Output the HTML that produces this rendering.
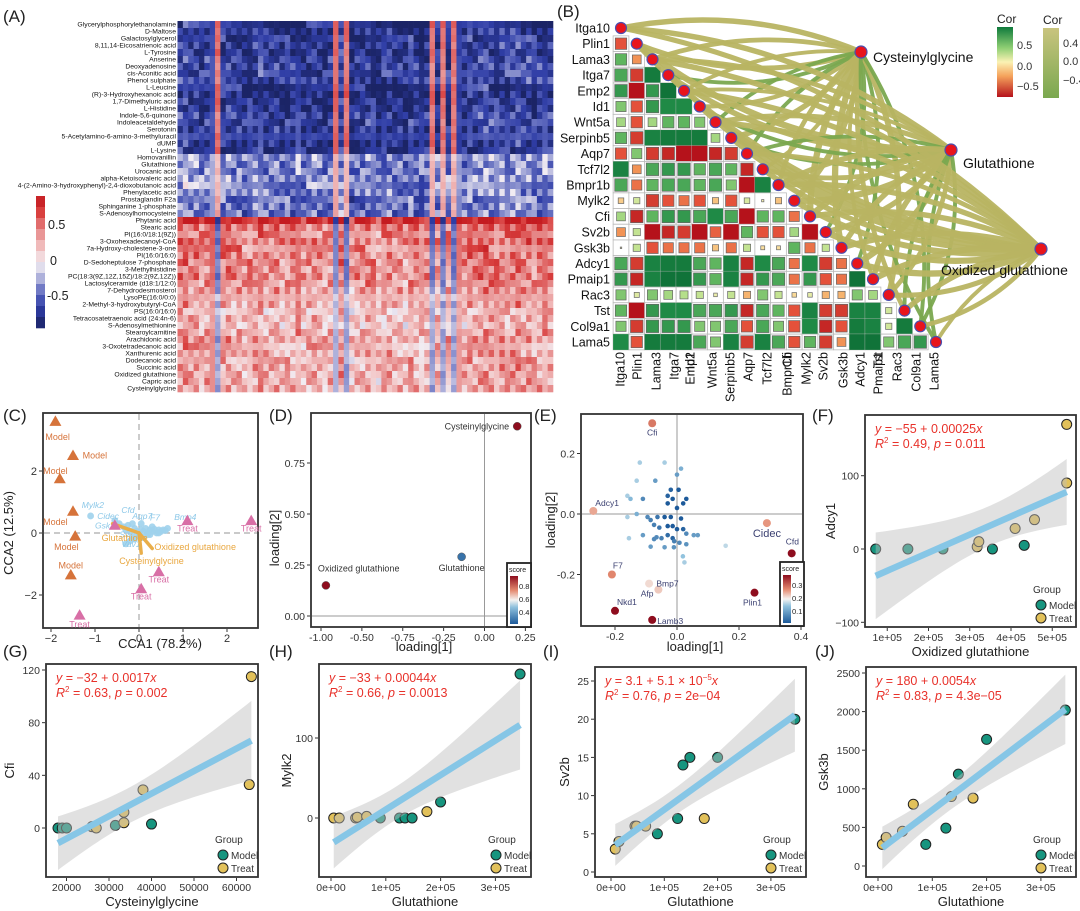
<!DOCTYPE html>
<html><head><meta charset="utf-8">
<style>
html,body{margin:0;padding:0;background:#fff;}
svg{display:block;font-family:"Liberation Sans",Arial,sans-serif;}
</style></head>
<body>
<svg id="fig" width="1080" height="911" viewBox="0 0 1080 911" xmlns="http://www.w3.org/2000/svg">
<rect x="0" y="0" width="1080" height="911" fill="#fff"/>
</svg>
<script>
// ---------------- DATA ----------------
const hmRows=['Glycerylphosphorylethanolamine','D-Maltose','Galactosylglycerol','8,11,14-Eicosatrienoic acid','L-Tyrosine','Anserine','Deoxyadenosine','cis-Aconitic acid','Phenol sulphate','L-Leucine','(R)-3-Hydroxyhexanoic acid','1,7-Dimethyluric acid','L-Histidine','Indole-5,6-quinone','Indoleacetaldehyde','Serotonin','5-Acetylamino-6-amino-3-methyluracil','dUMP','L-Lysine','Homovanillin','Glutathione','Urocanic acid','alpha-Ketoisovaleric acid','4-(2-Amino-3-hydroxyphenyl)-2,4-dioxobutanoic acid','Phenylacetic acid','Prostaglandin F2a','Sphinganine 1-phosphate','S-Adenosylhomocysteine','Phytanic acid','Stearic acid','PI(16:0/18:1(9Z))','3-Oxohexadecanoyl-CoA','7a-Hydroxy-cholestene-3-one','PI(16:0/16:0)','D-Sedoheptulose 7-phosphate','3-Methylhistidine','PC(18:3(9Z,12Z,15Z)/18:2(9Z,12Z))','Lactosylceramide (d18:1/12:0)','7-Dehydrodesmosterol','LysoPE(16:0/0:0)','2-Methyl-3-hydroxybutyryl-CoA','PS(16:0/16:0)','Tetracosatetraenoic acid (24:4n-6)','S-Adenosylmethionine','Stearoylcarnitine','Arachidonic acid','3-Oxotetradecanoic acid','Xanthurenic acid','Dodecanoic acid','Succinic acid','Oxidized glutathione','Capric acid','Cysteinylglycine'];
const hmRowMean=[-0.7,-0.7,-0.65,-0.65,-0.7,-0.6,-0.6,-0.6,-0.6,-0.7,-0.75,-0.7,-0.7,-0.6,-0.6,-0.65,-0.7,-0.7,-0.7,-0.3,-0.35,-0.35,-0.3,-0.3,-0.35,-0.4,-0.4,-0.4,0.85,0.5,0.45,0.5,0.45,0.45,0.45,0.4,0.45,0.4,0.35,0.15,0.3,0.2,0.25,0.2,0.3,0.35,0.3,0.3,0.3,0.3,0.3,0.3,0.3];
const hmColShift=[0.1,0.15,0.05,0.1,0,0.05,0,9,0.05,0.1,0,0.05,-0.05,0,0.05,0.1,0,0,0.05,-0.05,0,0,0.1,-0.05,0,0.05,0,-0.05,0,9,0.1,9,-0.1,0,0,0.05,0,-0.1,0,0.05,-0.05,0,-0.1,0.05,0,-0.05,0,9,0,9,0,9,-0.05,0,0.1,0.05,0.1,0.15,0.1,0.05,0.1,0.05,0.1,0.15,0.05,0.1,0,0.05,0.1,0.05];

const genes=['Itga10','Plin1','Lama3','Itga7','Emp2','Id1','Wnt5a','Serpinb5','Aqp7','Tcf7l2','Bmpr1b','Mylk2','Cfi','Sv2b','Gsk3b','Adcy1','Pmaip1','Rac3','Tst','Col9a1','Lama5'];
const corRows=[
[-0.5],
[0.5,-0.3],
[0.6,-0.6,0.9],
[0.7,-0.8,0.7,0.95],
[0.4,-0.5,0.7,0.8,0.8],
[0.3,-0.5,0.3,0.5,0.5,0.4],
[0.5,-0.6,0.85,0.9,0.9,0.9,0.3],
[-0.5,0.4,-0.6,-0.7,-0.85,-0.85,-0.7,-0.6],
[0.85,-0.3,0.6,0.7,0.7,0.5,0.6,0.5,-0.7],
[0.6,-0.4,0.5,0.6,0.6,0.5,0.6,0.4,-0.8,0.85],
[-0.12,0.15,-0.6,-0.5,-0.4,-0.5,-0.15,-0.5,0.12,0.02,-0.15],
[0.3,-0.7,0.5,0.7,0.7,0.6,0.8,0.6,-0.8,0.5,0.5,-0.4],
[-0.3,0.2,-0.8,-0.7,-0.6,-0.8,-0.45,-0.8,0.5,-0.5,-0.5,0.3,-0.8],
[0.0,0.2,-0.5,-0.4,-0.4,-0.4,-0.15,-0.4,0.2,-0.06,-0.06,0.5,-0.4,0.2],
[0.6,-0.6,0.85,0.9,0.9,0.6,0.5,0.85,-0.7,0.8,0.6,-0.4,0.8,-0.6,-0.4],
[0.7,-0.7,0.85,0.95,0.95,0.7,0.5,0.85,-0.7,0.7,0.6,-0.4,0.7,-0.5,-0.4,0.95],
[0.4,0.1,0.4,0.3,0.25,0.2,0.05,0.2,-0.2,0.4,0.2,-0.08,0.08,-0.2,-0.2,0.4,0.3],
[0.5,-0.8,0.7,0.8,0.8,0.6,0.6,0.7,-0.7,0.6,0.5,-0.5,0.85,-0.6,-0.6,0.85,0.85,0.15],
[0.4,-0.6,0.7,0.7,0.7,0.4,0.4,0.6,-0.5,0.6,0.4,-0.5,0.8,-0.7,-0.5,0.9,0.85,0.15,0.9],
[0.8,-0.5,0.9,0.9,0.9,0.6,0.4,0.85,-0.6,0.85,0.6,-0.5,0.5,-0.6,-0.3,0.95,0.95,0.4,0.6,0.7]];
const metNames=['Cysteinylglycine','Glutathione','Oxidized glutathione'];
const edgeCys=[0.5,0.45,0.4,-0.3,0.3,0.35,-0.3,0.5,-0.3,0.3,0.4,0.55,0.6,-0.3,0.6,-0.3,0.3,0.5,0.4,-0.3,-0.3];
const edgeGlu=[0.5,0.6,0.4,0.5,0.3,-0.3,0.45,-0.3,-0.3,0.4,0.5,0.6,0.6,0.5,0.5,0.6,0.5,0.4,-0.3,-0.3,-0.3];
const edgeOx=[0.45,0.5,0.5,0.4,0.5,0.5,0.5,0.5,0.4,0.5,0.5,0.55,0.5,0.6,0.5,0.6,0.6,0.45,0.5,0.4,0.3];

const cModel=[[-1.9,3.6],[-1.5,2.5],[-1.8,1.75],[-1.5,0.7],[-1.45,-0.1],[-1.55,-1.35]];
const cTreat=[[1.1,0.4],[2.55,0.4],[0.45,-1.25],[0.05,-1.8],[-1.35,-2.65],[-0.55,0.25]];
const cGenesX=[-1.1,-0.55,-0.45,-0.35,-0.3,-0.25,-0.2,-0.15,-0.1,-0.05,0,0.05,0.1,0.15,0.2,0.25,0.3,0.35,0.4,0.45,0.5,0.55,0.6,0.65,-0.2,-0.1,0,0.1,0.2,0.3,-0.3,-0.15,0.05,0.25,0.45];
const cGenesY=[0.55,0.4,0.3,0.2,0.1,0.25,0.05,-0.1,0.15,0.05,-0.05,0.1,0.05,0.15,0,0.1,0.05,0.12,0.0,0.1,0.05,0.1,0.08,0.15,-0.25,-0.2,-0.1,-0.15,-0.05,0.2,-0.35,0.3,0.3,-0.05,0.0];
const cArrows=[[-0.6,0.3],[0.05,-0.65],[0.3,-0.5]];

const dX=[0.2,-0.14,-0.97];
const dY=[0.93,0.29,0.15];
const dScore=[0.9,0.35,0.9];

const eLabels=['Cfi','Adcy1','Cidec','Cfd','F7','Afp','Bmp7','Nkd1','Lamb3','Plin1'];
const eLX=[-0.08,-0.27,0.29,0.37,-0.21,-0.09,-0.06,-0.2,-0.08,0.25];
const eLY=[0.3,0.01,-0.03,-0.13,-0.2,-0.23,-0.25,-0.32,-0.35,-0.26];
const eLS=[0.28,0.25,0.26,0.36,0.27,0.22,0.23,0.36,0.36,0.36];
const eX=[-0.12,-0.04,0.013,0,-0.13,-0.07,-0.02,0.005,-0.11,-0.03,-0.014,0.03,-0.03,0,0.02,-0.16,-0.15,-0.13,-0.16,-0.095,-0.085,-0.063,-0.04,-0.02,0.013,-0.014,0,0.02,-0.03,-0.057,-0.074,-0.11,-0.066,-0.03,-0.014,0.03,0.054,0.067,-0.155,-0.009,0.008,-0.04,-0.01,0.03,0.019,0.024,0.157,-0.074,-0.05,-0.085];
const eY=[0.17,0.17,0.15,0.13,0.11,0.11,0.08,0.08,0.05,0.06,0.05,0.05,0.035,0.02,0.035,0.06,0.05,0,-0.01,-0.01,-0.02,-0.01,-0.01,-0.01,-0.015,-0.04,-0.05,-0.05,-0.04,-0.045,-0.036,-0.07,-0.077,-0.07,-0.08,-0.065,-0.07,-0.07,-0.08,-0.09,-0.095,-0.11,-0.11,-0.1,-0.14,-0.16,-0.105,-0.083,-0.08,-0.108];
const eS=[0.17,0.17,0.14,0.12,0.17,0.12,0.06,0.05,0.1,0.06,0.03,0.05,0.04,0.03,0.05,0.17,0.15,0.14,0.17,0.1,0.09,0.08,0.05,0.04,0.05,0.04,0.05,0.06,0.05,0.08,0.09,0.12,0.1,0.07,0.06,0.1,0.12,0.12,0.17,0.09,0.1,0.12,0.11,0.11,0.16,0.17,0.18,0.1,0.09,0.12];

const fX=[72000,150000,235000,355000,432000,318000,322000,410000,457000,535000,535000];
const fY=[0,0,0,0,5,3,10,28,40,90,170];
const fG=[0,0,0,0,0,1,1,1,1,1,1];
const gX=[18000,19000,20000,31500,40000,26000,27000,33500,33500,38000,63000,63500];
const gY=[0,0,0,2,3,1,0,4,12,29,33,115];
const gG=[0,0,0,0,0,1,1,1,1,1,1,1];
const hX=[90000,125000,135000,148000,200000,345000,5000,15000,45000,48000,65000,175000];
const hY=[0,0,0,0,20,180,0,0,0,1,2,8];
const hG=[0,0,0,0,0,0,1,1,1,1,1,1];
const iX=[87000,125000,135000,148000,200000,345000,8000,15000,45000,48000,65000,175000];
const iY=[5,7,14,15,15,20,3,4,6,6,6,7];
const iG=[0,0,0,0,0,0,1,1,1,1,1,1];
const jX=[88000,125000,148000,200000,345000,8000,15000,45000,65000,135000,175000];
const jY=[280,490,1190,1640,2020,280,370,450,800,900,880];
const jG=[0,0,0,0,0,1,1,1,1,1,1];

// ---------------- HELPERS ----------------
const NS='http://www.w3.org/2000/svg';
const svg=document.getElementById('fig');
function mk(tag,attrs,parent){const e=document.createElementNS(NS,tag);for(const k in attrs)e.setAttribute(k,attrs[k]);(parent||svg).appendChild(e);return e;}
function txt(x,y,s,attrs,parent){const e=mk('text',Object.assign({x:x,y:y},attrs||{}),parent);e.textContent=s;return e;}
function hex(c){return [parseInt(c.slice(1,3),16),parseInt(c.slice(3,5),16),parseInt(c.slice(5,7),16)];}
function ramp(stops,v){if(v<=stops[0][0])return stops[0][1];for(let k=1;k<stops.length;k++){if(v<=stops[k][0]){const a=stops[k-1],b=stops[k];const t=(v-a[0])/(b[0]-a[0]);const A=hex(a[1]),B=hex(b[1]);return 'rgb('+A.map((q,i)=>Math.round(q+(B[i]-q)*t)).join(',')+')';}}return stops[stops.length-1][1];}
function lin(d0,r0,d1,r1){return v=>r0+(v-d0)*(r1-r0)/(d1-d0);}
function panelLabel(x,y,s){const e=txt(x,y,s,{'font-size':17,fill:'#222'});}

// ---------------- PANEL A: heatmap ----------------
const hmStops=[[-0.85,'#1b2466'],[-0.6,'#2f3da6'],[-0.4,'#5d68bd'],[-0.2,'#aeb1db'],[0,'#f1ecf2'],[0.2,'#f3c6c6'],[0.45,'#e68a8a'],[0.7,'#d9403f'],[0.9,'#c41b20']];
panelLabel(3,22,'(A)');
const gA=mk('g',{});


const hmX0=177.5,hmY0=21,cw=375.5/70,rh=7;
for(let i=0;i<hmRows.length;i++){
  const lab=txt(176,hmY0+rh*i+5.6,hmRows[i],{'font-size':6.8,'text-anchor':'end',fill:'#111'},gA);
  
  
  for(let j=0;j<hmColShift.length;j++){
    const tex=(((i*37+j*91+i*j*13)%23)/23-0.5)*0.55;
    let v;
    if(hmColShift[j]>5){v=-hmRowMean[i]*0.8+tex*0.3;}else{v=hmRowMean[i]+hmColShift[j]+tex;}
    const r=mk('rect',{x:hmX0+cw*j,y:hmY0+rh*i,width:cw+0.3,height:rh+0.3,fill:ramp(hmStops,v)},gA);
    
    
  }
}
const gAl=mk('g',{});


for(let k=0;k<12;k++){const v=0.85-k*0.15;mk('rect',{x:36,y:196+k*11,width:9,height:11.3,fill:ramp(hmStops,v)},gAl);}
[['0.5',229,48],['0',265,50],['-0.5',300,47]].forEach(a=>{const t=txt(a[2],a[1],a[0],{'font-size':12.5,fill:'#222'},gAl);});

// ---------------- PANEL B ----------------
panelLabel(557,17,'(B)');
const corStops=[[-0.8,'#b5121b'],[-0.5,'#e4513a'],[-0.25,'#f5a35c'],[0,'#fbf2b4'],[0.25,'#b5df8a'],[0.5,'#5fb55f'],[0.8,'#1f8a46'],[1,'#0b6b34']];
const bx=j=>621+15.75*j, by=i=>28+15.7*i;
const gB=mk('g',{});


for(let i=1;i<genes.length;i++){
  for(let j=0;j<i;j++){
    const r=corRows[i-1][j];
    mk('rect',{x:bx(j)-7.87,y:by(i)-7.85,width:15.75,height:15.7,fill:'#fff',stroke:'#bbb','stroke-width':0.8},gB);
    let s=Math.abs(r)>0.75?15.75:Math.max(1.5,12.5*Math.min(1,Math.sqrt(Math.abs(r)/0.6)));
    const c=mk('rect',{x:bx(j)-s/2,y:by(i)-s/2,width:s,height:s,fill:ramp(corStops,r),stroke:s<15?'#666':'none','stroke-width':0.7},gB);
    
    
  }
}
const metPos=[[861,52],[951,150],[1041,249]];
const edgeSets=[edgeCys,edgeGlu,edgeOx];
const gE=mk('g',{fill:'none','stroke-linecap':'round'});


for(let m=0;m<3;m++){
  for(let i=0;i<genes.length;i++){
    const c=edgeSets[m][i];
    const x1=bx(i),y1=by(i),x2=metPos[m][0],y2=metPos[m][1];
    const mx=(x1+x2)/2,my=(y1+y2)/2,dx=x2-x1,dy=y2-y1;
    const k=(i%2?0.18:-0.15);
    const cx=mx-dy*k,cy=my+dx*k;
    const p=mk('path',{d:`M${x1},${y1} Q${cx},${cy} ${x2},${y2}`,stroke:c>0?'#b8b462':'#7aa84f','stroke-width':1.5+8*Math.abs(c),opacity:0.95},gE);
    
    
  }
}
for(let i=0;i<genes.length;i++){
  const d=mk('circle',{cx:bx(i),cy:by(i),r:5.5,fill:'#e8141c',stroke:'#4a4fb0','stroke-width':1.2});
  
  
  const t=txt(610,by(i)+4.5,genes[i],{'font-size':12.5,'text-anchor':'end',fill:'#111'});
  
  
}
const xLabPos=[620,637,656,674,690,690,712,730,748,767,787,806,787,823,843,860,878,897,878,916,934];
for(let i=0;i<genes.length;i++){
  const t=txt(0,0,genes[i],{'font-size':12.5,'text-anchor':'end',fill:'#111',transform:`translate(${xLabPos[i]+4.5},352) rotate(-90)`});
  
  
}
const metLab=[[873,62],[963,168],[941,275]];
for(let m=0;m<3;m++){
  const d=mk('circle',{cx:metPos[m][0],cy:metPos[m][1],r:6,fill:'#e8141c',stroke:'#4a4fb0','stroke-width':1.2});
  
  
  const t=txt(metLab[m][0],metLab[m][1],metNames[m],{'font-size':14,fill:'#111'});
  
  
}
const defs=mk('defs',{});
const lg1=mk('linearGradient',{id:'gcor',x1:0,y1:1,x2:0,y2:0},defs);
[[0,'#b5121b'],[0.3,'#f5a35c'],[0.5,'#fbf2b4'],[0.7,'#8fcf74'],[1,'#0f7a3c']].forEach(s=>mk('stop',{offset:s[0],'stop-color':s[1]},lg1));
const lg2=mk('linearGradient',{id:'gcor2',x1:0,y1:1,x2:0,y2:0},defs);
[[0,'#7aa84f'],[1,'#c9c47e']].forEach(s=>mk('stop',{offset:s[0],'stop-color':s[1]},lg2));
const gBl=mk('g',{});


txt(997,23,'Cor',{'font-size':12,fill:'#222'},gBl);
mk('rect',{x:997,y:27,width:16,height:70,fill:'url(#gcor)'},gBl);
[['0.5',49],['0.0',70],['−0.5',90]].forEach(a=>txt(1017,a[1],a[0],{'font-size':11,fill:'#333'},gBl));
txt(1043,24,'Cor',{'font-size':12,fill:'#222'},gBl);
mk('rect',{x:1043,y:28,width:16,height:70,fill:'url(#gcor2)'},gBl);
[['0.4',47],['0.0',65],['−0.4',84]].forEach(a=>txt(1063,a[1],a[0],{'font-size':11,fill:'#333'},gBl));

// ---------------- generic axes ----------------
function frame(x0,y0,x1,y1,name){const r=mk('rect',{x:x0,y:y0,width:x1-x0,height:y1-y0,fill:'none',stroke:'#333','stroke-width':1.8});}
function xTicks(vals,labs,sx,yb,fs){vals.forEach((v,k)=>{mk('line',{x1:sx(v),x2:sx(v),y1:yb+1,y2:yb+4,stroke:'#333'});const t=txt(sx(v),yb+14,labs[k],{'font-size':fs||11,'text-anchor':'middle',fill:'#333'});});}
function yTicks(vals,labs,sy,xl,fs){vals.forEach((v,k)=>{mk('line',{x1:xl-4,x2:xl-1,y1:sy(v),y2:sy(v),stroke:'#333'});const t=txt(xl-6,sy(v)+4,labs[k],{'font-size':fs||11,'text-anchor':'end',fill:'#333'});});}
function axTitle(x,y,s,rot,name){const t=txt(x,y,s,{'font-size':13,'text-anchor':'middle',fill:'#222',transform:rot?`rotate(-90 ${x} ${y})`:''});}

// ---------------- PANEL C ----------------
panelLabel(3,421,'(C)');
{
const sx=lin(0,139,2,227), sy=lin(0,533,2,471);
frame(43,413,258,628,'plot-frame-c');
mk('line',{x1:sx(0),x2:sx(0),y1:414,y2:627,stroke:'#aaa','stroke-dasharray':'6,4','stroke-width':1.2});
mk('line',{x1:44,x2:257,y1:sy(0),y2:sy(0),stroke:'#aaa','stroke-dasharray':'6,4','stroke-width':1.2});
xTicks([-2,-1,0,1,2],['−2','−1','0','1','2'],sx,628,11);
yTicks([-2,0,2],['−2','0','2'],sy,43,11);
axTitle(160,648,'CCA1 (78.2%)',false,'x-axis-title');
axTitle(13,533,'CCA2 (12.5%)',true,'y-axis-title');
for(let k=0;k<cGenesX.length;k++){const p=mk('circle',{cx:sx(cGenesX[k]),cy:sy(cGenesY[k]),r:3.4,fill:'#9fd2ec',opacity:0.9});}
const cgl=[['Mylk2',-1.3,0.8],['Cidec',-0.95,0.45],['Cfd',-0.4,0.65],['Aqp7',-0.15,0.45],['F7',0.25,0.4],['Bmp4',0.8,0.42],['Gsk3b',-1.0,0.15],['Sv',-0.45,-0.15],['Vav1',-0.4,-0.45]];
cgl.forEach(a=>{const t=txt(sx(a[1]),sy(a[2]),a[0],{'font-size':8.5,fill:'#8cc8e8','font-style':'italic'});});
const metL=['Glutathione','Cysteinylglycine','Oxidized glutathione'];
const metLP=[[-0.85,-0.25],[-0.45,-1.0],[0.35,-0.55]];
for(let k=0;k<3;k++){
  const a=mk('line',{x1:sx(0),y1:sy(0),x2:sx(cArrows[k][0]),y2:sy(cArrows[k][1]),stroke:'#e9ae4a','stroke-width':3.5,'stroke-linecap':'round'});
  
  
  const t=txt(sx(metLP[k][0]),sy(metLP[k][1]),metL[k],{'font-size':9,fill:'#e9a73f'});
  
  
}
function tri(x,y,col){return mk('path',{d:`M${x},${y-6} L${x+6},${y+4.5} L${x-6},${y+4.5} Z`,fill:col});}
cModel.forEach(p=>{const t=tri(sx(p[0]),sy(p[1]),'#d6733a');});
cTreat.forEach(p=>{const t=tri(sx(p[0]),sy(p[1]),'#d86fa6');});
const mLab=[[-1.85,3.1],[-1.1,2.5],[-1.9,2.0],[-1.9,0.35],[-1.65,-0.45],[-1.55,-1.05]];
const mAnc=['middle','start','middle','middle','middle','middle'];
mLab.forEach((p,k)=>{const t=txt(sx(p[0])+(k==1?-8:0),sy(p[1])+3,'Model',{'font-size':9,fill:'#d6733a','text-anchor':mAnc[k]});});
const tLab=[[1.1,0.15],[2.55,0.15],[0.45,-1.5],[0.05,-2.05],[-1.35,-2.95]];
tLab.forEach(p=>{const t=txt(sx(p[0]),sy(p[1])+3,'Treat',{'font-size':9,fill:'#d86fa6','text-anchor':'middle'});});
}

const scoreStops=[[0,'#1d5a9a'],[0.35,'#8fc1dd'],[0.5,'#f5f3f1'],[0.7,'#e48a70'],[1,'#8e0d1e']];
const sg=mk('linearGradient',{id:'gscore',x1:0,y1:1,x2:0,y2:0},defs);
scoreStops.forEach(s=>mk('stop',{offset:s[0],'stop-color':s[1]},sg));
function scoreLegend(x,y,labs){
  const g=mk('g',{});
  
  
  mk('rect',{x:x,y:y,width:24,height:64,fill:'#fff',stroke:'#222','stroke-width':1.8},g);
  txt(x+2,y+9,'score',{'font-size':7,fill:'#222'},g);
  mk('rect',{x:x+3,y:y+13,width:8,height:48,fill:'url(#gscore)'},g);
  labs.forEach((l,k)=>txt(x+12,y+26+k*13,l,{'font-size':7.5,fill:'#222'},g));
}

// ---------------- PANEL D ----------------
panelLabel(269,421,'(D)');
{
const sx=lin(-1,321,0,484.5), sy=lin(0,616,0.75,463);
frame(311,413,531,627,'plot-frame-d');
mk('line',{x1:sx(0),x2:sx(0),y1:414,y2:626,stroke:'#999','stroke-width':1});
mk('line',{x1:312,x2:530,y1:sy(0),y2:sy(0),stroke:'#999','stroke-width':1});
xTicks([-1,-0.75,-0.5,-0.25,0,0.25],['-1.00','-0.50','-0.75','-0.25','0.00','0.25'],sx,627,10.5);
yTicks([0,0.25,0.5,0.75],['0.00','0.25','0.50','0.75'],sy,311,10.5);
axTitle(424,651,'loading[1]',false,'x-axis-title');
axTitle(279,538,'loading[2]',true,'y-axis-title');
const sc=lin(0.3,0,0.9,1);
for(let k=0;k<dX.length;k++){const p=mk('circle',{cx:sx(dX[k]),cy:sy(dY[k]),r:4,fill:ramp(scoreStops,sc(dScore[k])),stroke:'#555','stroke-width':0.5});}
const dl=[[0.2,0.93,-8,3,'end','Cysteinylglycine'],[-0.14,0.29,0,14,'middle','Glutathione'],[-0.97,0.15,-8,-14,'start','Oxidized glutathione']];
dl.forEach(a=>{const t=txt(sx(a[0])+a[2],sy(a[1])+a[3],a[5],{'font-size':9,fill:'#333','text-anchor':a[4]});});
scoreLegend(507,563,['0.8','0.6','0.4']);
}

// ---------------- PANEL E ----------------
panelLabel(534,421,'(E)');
{
const sx=lin(0,677,0.2,739), sy=lin(0,514,0.2,453.5);
frame(581,414,803,626,'plot-frame-e');
mk('line',{x1:sx(0),x2:sx(0),y1:415,y2:625,stroke:'#999','stroke-width':1});
mk('line',{x1:582,x2:802,y1:sy(0),y2:sy(0),stroke:'#999','stroke-width':1});
xTicks([-0.2,0,0.2,0.4],['-0.2','0.0','0.2','0.4'],sx,626,10.5);
yTicks([-0.2,0,0.2],['-0.2','0.0','0.2'],sy,581,10.5);
axTitle(695,651,'loading[1]',false,'x-axis-title');
axTitle(555,520,'loading[2]',true,'y-axis-title');
const sc=lin(0.05,0,0.36,1);
for(let k=0;k<eX.length;k++){const p=mk('circle',{cx:sx(eX[k]),cy:sy(eY[k]),r:2.3,fill:ramp(scoreStops,sc(eS[k]))});}
const off=[[0,12,'middle'],[2,-5,'start'],[0,14,'middle'],[-6,-9,'start'],[1,-6,'start'],[-2,13,'middle'],[-2,-3,'start'],[2,-6,'start'],[5,4,'start'],[-2,13,'middle']];
for(let k=0;k<eLX.length;k++){
  const p=mk('circle',{cx:sx(eLX[k]),cy:sy(eLY[k]),r:4,fill:ramp(scoreStops,sc(eLS[k]))});
  
  
  const t=txt(sx(eLX[k])+off[k][0],sy(eLY[k])+off[k][1],eLabels[k],{'font-size':k==2?11:8.5,fill:'#3a3f70','text-anchor':off[k][2]});
  
  
}
scoreLegend(780,562,['0.3','0.2','0.1']);
}

// ---------------- regression panels ----------------
function regPanel(X,Y,G,sx,sy,fr,xt,xl,yt,yl,eq,xTitle,yTitle,lbl,yOff){
  panelLabel(lbl[1],lbl[2],lbl[0]);
  const [x0,y0,x1,y1]=fr;
  const n=X.length;let mx=0,my=0;for(let k=0;k<n;k++){mx+=X[k];my+=Y[k];}mx/=n;my/=n;
  let sxx=0,sxy=0;for(let k=0;k<n;k++){sxx+=(X[k]-mx)**2;sxy+=(X[k]-mx)*(Y[k]-my);}
  const b=sxy/sxx,a=my-b*mx;let sse=0;for(let k=0;k<n;k++)sse+=(Y[k]-a-b*X[k])**2;
  const s=Math.sqrt(sse/(n-2)),tq=2.2;
  const xmin=Math.min(...X),xmax=Math.max(...X);
  const up=[],lo=[];
  for(let q=0;q<=40;q++){const xv=xmin+(xmax-xmin)*q/40;const yh=a+b*xv;const se=s*Math.sqrt(1/n+(xv-mx)**2/sxx);up.push(sx(xv)+','+Math.max(y0+1,sy(yh+tq*se)));lo.push(sx(xv)+','+Math.min(y1-1,sy(yh-tq*se)));}
  for(let k=0;k<n;k++){const p=mk('circle',{cx:sx(X[k]),cy:sy(Y[k]),r:5,fill:G[k]?'#e2c15a':'#17957f',stroke:'#222','stroke-width':1});}
  const band=mk('polygon',{points:up.concat(lo.reverse()).join(' '),fill:'#bcbcbc',opacity:0.45});
  
  
  const ln=mk('line',{x1:sx(xmin),y1:sy(a+b*xmin),x2:sx(xmax),y2:sy(a+b*xmax),stroke:'#86c6e6','stroke-width':6.5});
  
  
  frame(x0,y0,x1,y1,'plot-frame');
  xTicks(xt,xl,sx,y1,10.5);
  yTicks(yt,yl,sy,x0,10.5);
  axTitle((x0+x1)/2,y1+29,xTitle,false,'x-axis-title');
  axTitle(x0-yOff,(y0+y1)/2,yTitle,true,'y-axis-title');
  const e1=mk('text',{x:x0+10,y:y0+18,'font-size':12.5,fill:'#e8312a'});e1.innerHTML=eq[0];
  
  
  const e2=mk('text',{x:x0+10,y:y0+33,'font-size':12.5,fill:'#e8312a'});e2.innerHTML=eq[1];
  
  
  const lg=mk('g',{});
  
  
  txt(x1-43,y1-34,'Group',{'font-size':10,fill:'#333'},lg);
  mk('circle',{cx:x1-35,cy:y1-22,r:5,fill:'#17957f',stroke:'#222'},lg);
  txt(x1-27,y1-18,'Model',{'font-size':10,fill:'#333'},lg);
  mk('circle',{cx:x1-35,cy:y1-9,r:5,fill:'#e2c15a',stroke:'#222'},lg);
  txt(x1-27,y1-5,'Treat',{'font-size':10,fill:'#333'},lg);
}
const R2='<tspan font-style="italic">R</tspan><tspan font-size="8" dy="-5">2</tspan><tspan dy="5"> = ';
const E5=['0e+00','1e+05','2e+05','3e+05'];
regPanel(fX,fY,fG,lin(0,846,1e5,887.25),lin(0,549,100,475.7),[865,415,1076,627],[1e5,2e5,3e5,4e5,5e5],['1e+05','2e+05','3e+05','4e+05','5e+05'],[-100,0,100],['−100','0','100'],['<tspan font-style="italic">y</tspan> = −55 + 0.00025<tspan font-style="italic">x</tspan>',R2+'0.49, </tspan><tspan font-style="italic">p</tspan> = 0.011'],'Oxidized glutathione','Adcy1',['(F)',812,421],30);
regPanel(gX,gY,gG,lin(20000,66.5,60000,236.5),lin(0,828,120,670),[46,664,258,877],[20000,30000,40000,50000,60000],['20000','30000','40000','50000','60000'],[0,40,80,120],['0','40','80','120'],['<tspan font-style="italic">y</tspan> = −32 + 0.0017<tspan font-style="italic">x</tspan>',R2+'0.63, </tspan><tspan font-style="italic">p</tspan> = 0.002'],'Cysteinylglycine','Cfi',['(G)',3,657],32);
regPanel(hX,hY,hG,lin(0,331,1e5,385.8),lin(0,818,100,738),[319,664,531,877],[0,1e5,2e5,3e5],E5,[0,100],['0','100'],['<tspan font-style="italic">y</tspan> = −33 + 0.00044<tspan font-style="italic">x</tspan>',R2+'0.66, </tspan><tspan font-style="italic">p</tspan> = 0.0013'],'Glutathione','Mylk2',['(H)',269,657],28);
regPanel(iX,iY,iG,lin(0,611,1e5,664.3),lin(0,872,25,681),[595,667,806,877],[0,1e5,2e5,3e5],E5,[0,5,10,15,20,25],['0','5','10','15','20','25'],['<tspan font-style="italic">y</tspan> = 3.1 + 5.1 × 10<tspan font-size="8" dy="-5">−5</tspan><tspan dy="5" font-style="italic">x</tspan>',R2+'0.76, </tspan><tspan font-style="italic">p</tspan> = 2e−04'],'Glutathione','Sv2b',['(I)',543,657],26);
regPanel(jX,jY,jG,lin(0,878,1e5,932.3),lin(0,866,2500,673),[866,667,1076,877],[0,1e5,2e5,3e5],E5,[0,500,1000,1500,2000,2500],['0','500','1000','1500','2000','2500'],['<tspan font-style="italic">y</tspan> = 180 + 0.0054<tspan font-style="italic">x</tspan>',R2+'0.83, </tspan><tspan font-style="italic">p</tspan> = 4.3e−05'],'Glutathione','Gsk3b',['(J)',815,657],38);
</script>
</body></html>
